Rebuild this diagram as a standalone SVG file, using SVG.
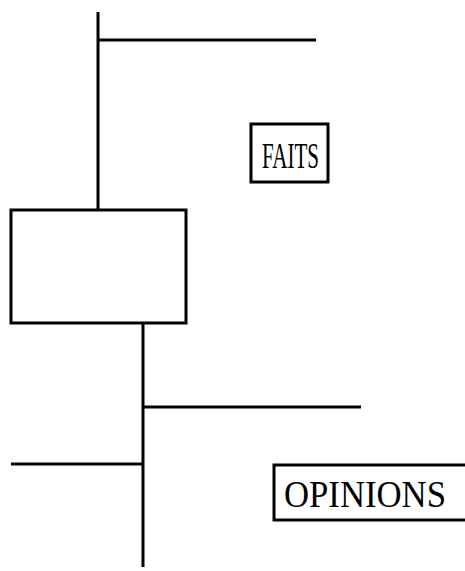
<svg xmlns="http://www.w3.org/2000/svg" width="465" height="571" viewBox="0 0 465 571">
<style>
.ln{stroke:#000;stroke-width:3;fill:none;stroke-linecap:butt}
.bx{stroke:#000;stroke-width:3;fill:#fff}
.t{font-family:"Liberation Serif",serif;fill:#000}
</style>
<rect width="465" height="571" fill="#fff"/>
<g id="connectors">
<line class="ln" x1="98" y1="12" x2="98" y2="210"/>
<line class="ln" x1="98" y1="40" x2="316" y2="40"/>
<line class="ln" x1="143" y1="323" x2="143" y2="567"/>
<line class="ln" x1="143" y1="407" x2="361" y2="407"/>
<line class="ln" x1="11" y1="464" x2="143" y2="464"/>
</g>
<g id="box">
<rect class="bx" x="11" y="210" width="175" height="113"/>
</g>
<g id="faits">
<rect class="bx" x="251" y="124" width="77" height="58"/>
<text class="t" x="262" y="168" font-size="35" textLength="57" lengthAdjust="spacingAndGlyphs">FAITS</text>
</g>
<g id="opinions">
<rect class="bx" x="274" y="465" width="194" height="55"/>
<text class="t" x="284" y="507" font-size="37" textLength="162" lengthAdjust="spacingAndGlyphs">OPINIONS</text>
</g>
</svg>
